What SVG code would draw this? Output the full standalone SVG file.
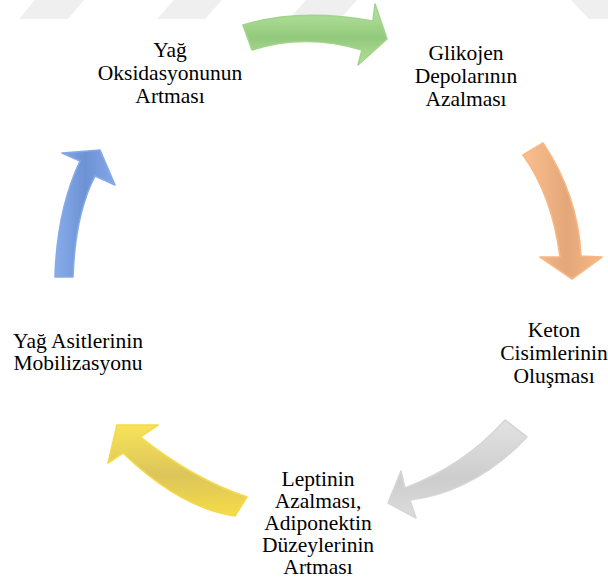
<svg xmlns="http://www.w3.org/2000/svg" width="608" height="580" viewBox="0 0 608 580">
<style>
  .lbl { font-family: "Liberation Serif", "Times New Roman", serif; font-size: 21.5px; fill: #000; text-anchor: middle; }
  .wm { fill: #efefef; }
  .arr { stroke-width: 1.6; stroke-linejoin: round; filter: url(#soft); }
</style>
<defs>
  <filter id="soft" x="-10%" y="-10%" width="120%" height="120%">
    <feGaussianBlur stdDeviation="0.7"/>
  </filter>
  <linearGradient id="gGreen" x1="0" y1="0" x2="0" y2="1">
    <stop offset="0" stop-color="#b9e6a2"/>
    <stop offset="0.55" stop-color="#93c97c"/>
    <stop offset="1" stop-color="#b3e09a"/>
  </linearGradient>
  <linearGradient id="gOrange" x1="0" y1="0" x2="1" y2="0">
    <stop offset="0" stop-color="#fbc08e"/>
    <stop offset="0.55" stop-color="#e3a77a"/>
    <stop offset="1" stop-color="#f9b783"/>
  </linearGradient>
  <linearGradient id="gGray" x1="0" y1="0" x2="0" y2="1">
    <stop offset="0" stop-color="#e2e2e2"/>
    <stop offset="0.6" stop-color="#cdcdcd"/>
    <stop offset="1" stop-color="#dcdcdc"/>
  </linearGradient>
  <linearGradient id="gYellow" x1="0" y1="0" x2="0" y2="1">
    <stop offset="0" stop-color="#f8e35a"/>
    <stop offset="0.55" stop-color="#dcc55a"/>
    <stop offset="1" stop-color="#f5dc48"/>
  </linearGradient>
  <linearGradient id="gBlue" x1="0" y1="0" x2="1" y2="0">
    <stop offset="0" stop-color="#88acea"/>
    <stop offset="0.5" stop-color="#6d92d4"/>
    <stop offset="1" stop-color="#82a8ea"/>
  </linearGradient>
</defs>

<g id="watermark">
  <polygon class="wm" points="19,19 68,19 84,0 35,0"/>
  <polygon class="wm" points="157,19 205,19 222,0 174,0"/>
  <polygon class="wm" points="289,19 340,19 357,0 306,0"/>
  <polygon class="wm" points="589,19 608,19 608,0 571,0"/>
</g>

<g id="connectors">
  <path id="arrow-green" class="arr" fill="url(#gGreen)" stroke="#a3d48b" d="M243,25 Q300,8 373,21 L375,4 L387,39 L358,65 L362,50 Q305,33 252,50 Z"/>
  <path id="arrow-orange" class="arr" fill="url(#gOrange)" stroke="#f6b784" d="M523,155 L543,143 Q578,195 581,256 L602,257 L572,279 L540,257 L560,257 Q552,195 523,155 Z"/>
  <path id="arrow-gray" class="arr" fill="url(#gGray)" stroke="#d6d6d6" d="M505,420 L527,437 Q475,492 410,500 L416,518 L388,503 L401,471 L405,488 Q465,465 505,420 Z"/>
  <path id="arrow-yellow" class="arr" fill="url(#gYellow)" stroke="#f2da4a" d="M247,497 L235,516 Q180,508 123,453 L108,463 L117,425 L158,425 L140,437 Q195,480 247,497 Z"/>
  <path id="arrow-blue" class="arr" fill="url(#gBlue)" stroke="#86aae8" d="M55,277 L73,277 Q75,215 95,176 L115,185 L100,150 L62,153 L80,161 Q57,210 55,277 Z"/>
</g>

<g id="node-yag-oksidasyonu">
  <text class="lbl" x="170" y="57">Yağ</text>
  <text class="lbl" x="170" y="80">Oksidasyonunun</text>
  <text class="lbl" x="170" y="103">Artması</text>
</g>
<g id="node-glikojen">
  <text class="lbl" x="466" y="60">Glikojen</text>
  <text class="lbl" x="466" y="83">Depolarının</text>
  <text class="lbl" x="466" y="106">Azalması</text>
</g>
<g id="node-keton">
  <text class="lbl" x="554" y="337">Keton</text>
  <text class="lbl" x="554" y="360">Cisimlerinin</text>
  <text class="lbl" x="554" y="383">Oluşması</text>
</g>
<g id="node-leptin">
  <text class="lbl" x="318" y="486">Leptinin</text>
  <text class="lbl" x="318" y="508">Azalması,</text>
  <text class="lbl" x="318" y="530">Adiponektin</text>
  <text class="lbl" x="318" y="552">Düzeylerinin</text>
  <text class="lbl" x="318" y="574">Artması</text>
</g>
<g id="node-yag-asitleri">
  <text class="lbl" x="78" y="348">Yağ Asitlerinin</text>
  <text class="lbl" x="78" y="370">Mobilizasyonu</text>
</g>
</svg>
